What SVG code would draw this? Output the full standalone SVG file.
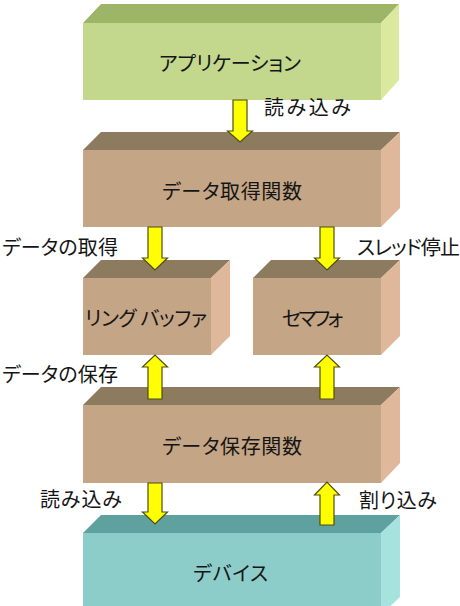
<svg xmlns="http://www.w3.org/2000/svg" width="460" height="606" viewBox="0 0 460 606">
<style>
text{font-family:"Noto Sans CJK JP","Noto Sans CJK SC",sans-serif;font-size:20px;fill:#151515;font-feature-settings:"palt"}
.arrow{fill:#ffff00;stroke:#4f4f10;stroke-width:1.2;stroke-linejoin:miter}
.g-top{fill:#9cb567}.g-front{fill:#c3d78d}.g-side{fill:#dbe99f}
.b-top{fill:#8c7b5f}.b-front{fill:#c4a585}.b-side{fill:#dfb89b}
.t-top{fill:#5fa19e}.t-front{fill:#8dcdc9}.t-side{fill:#a6e3df}
</style>
<rect width="460" height="606" fill="#ffffff"/>
<g id="app">
<polygon class="g-top" points="83,23 101,4 399,4 381,23"/>
<rect class="g-front" x="83" y="23" width="298" height="77"/>
<polygon class="g-side" points="381,23 399,4 399,80 381,100"/>
<text x="159" y="71" textLength="142">アプリケーション</text>
</g>
<g id="get-func">
<polygon class="b-top" points="83,150 101,132 400,132 381,150"/>
<rect class="b-front" x="83" y="150" width="298" height="77"/>
<polygon class="b-side" points="381,150 400,132 400,208 381,227"/>
<text x="162" y="199" textLength="140">データ取得関数</text>
</g>
<g id="ring-buffer">
<polygon class="b-top" points="83,278 101,260 230,260 211,278"/>
<rect class="b-front" x="83" y="278" width="128" height="77"/>
<polygon class="b-side" points="211,278 230,260 230,336 211,355"/>
<text x="85" y="326" textLength="122">リング バッファ</text>
</g>
<g id="semaphore">
<polygon class="b-top" points="253,278 271,260 400,260 381,278"/>
<rect class="b-front" x="253" y="278" width="128" height="77"/>
<polygon class="b-side" points="381,278 400,260 400,336 381,355"/>
<text x="282" y="326" textLength="61">セマフォ</text>
</g>
<g id="store-func">
<polygon class="b-top" points="83,405 101,387 400,387 381,405"/>
<rect class="b-front" x="83" y="405" width="298" height="78"/>
<polygon class="b-side" points="381,405 400,387 400,463 381,483"/>
<text x="162" y="454" textLength="140">データ保存関数</text>
</g>
<g id="device">
<polygon class="t-top" points="83,533 101,515 400,515 381,533"/>
<rect class="t-front" x="83" y="533" width="298" height="80"/>
<polygon class="t-side" points="381,533 400,515 400,597 381,615"/>
<text x="193" y="581" textLength="75">デバイス</text>
</g>
<g id="connectors">
<path class="arrow" d="M233,100 H247 V131 H252.5 L240,142 L227.5,131 H233 Z"/>
<text x="264" y="115" textLength="87">読み込み</text>
<path class="arrow" d="M148,227 H162 V258 H167.5 L155,270 L142.5,258 H148 Z"/>
<text x="2" y="255" textLength="116">データの取得</text>
<path class="arrow" d="M320,227 H334 V258 H339.5 L327,270 L314.5,258 H320 Z"/>
<text x="357" y="255" textLength="103">スレッド停止</text>
<path class="arrow" d="M148,399 H162 V367 H167.5 L155,355 L142.5,367 H148 Z"/>
<text x="2" y="382" textLength="116">データの保存</text>
<path class="arrow" d="M320,399 H334 V367 H339.5 L327,355 L314.5,367 H320 Z"/>
<path class="arrow" d="M148,483 H162 V512 H167.5 L155,524 L142.5,512 H148 Z"/>
<text x="40" y="507" textLength="82">読み込み</text>
<path class="arrow" d="M320,525 H334 V495 H339.5 L327,482 L314.5,495 H320 Z"/>
<text x="359" y="508" textLength="78">割り込み</text>
</g>
</svg>
